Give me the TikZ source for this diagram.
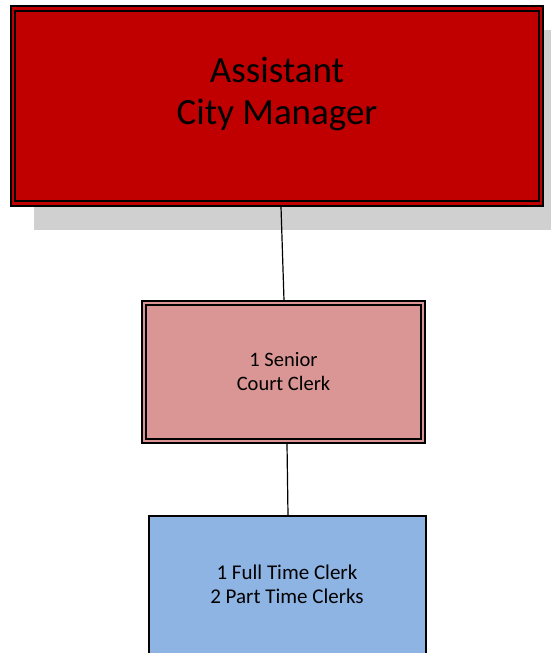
\documentclass[tikz,border=0pt]{standalone}
\usepackage{fontspec}
\setmainfont{Carlito}
\usetikzlibrary{calc}
\definecolor{mgrred}{HTML}{C00000}
\definecolor{seniorpink}{HTML}{D99694}
\definecolor{staffblue}{HTML}{8EB4E3}
\definecolor{shadowgray}{HTML}{D0D0D0}
\begin{document}
\begin{tikzpicture}[x=1pt,y=-1pt,
  box/.style={draw=black, line width=1.4pt, inner sep=0pt, align=center},
  inner/.style={draw=black, line width=2pt},
  link/.style={draw=black, line width=1.2pt}]
\useasboundingbox (0,0) rectangle (550,653);

% drop shadow behind the top box
\fill[shadowgray] (34,30) rectangle (552,230);

% top box with its inner frame
\node[box, fill=mgrred, minimum width=532pt, minimum height=200pt] (mgr) at (277,106) {};
\draw[inner] ($(mgr.north west)+(5,6)$) rectangle ($(mgr.south east)+(-5,-6)$);
\node[font=\fontsize{37}{42}\selectfont, align=center] (mgrtext) at (277,93.5) {Assistant\\City Manager};

% middle box with its inner frame
\node[box, fill=seniorpink, minimum width=283pt, minimum height=142pt,
      font=\fontsize{20.5}{24}\selectfont] (senior) at (283.5,372) {1 Senior\\Court Clerk};
\draw[inner, line width=1.8pt] ($(senior.north west)+(5,5)$) rectangle ($(senior.south east)+(-5,-5)$);

% bottom box, running past the lower edge
\node[box, fill=staffblue, minimum width=277pt, minimum height=141pt] (staff) at (287.5,586.5) {};
\node[font=\fontsize{21}{24.5}\selectfont, align=center] (stafftext) at (287,584.5) {1 Full Time Clerk\\2 Part Time Clerks};

% reporting lines
\draw[link] ([xshift=4pt]mgr.south) -- ([xshift=0.5pt]senior.north);
\draw[link] ([xshift=3.5pt]senior.south) -- ([xshift=0.5pt]staff.north);
\end{tikzpicture}
\end{document}
